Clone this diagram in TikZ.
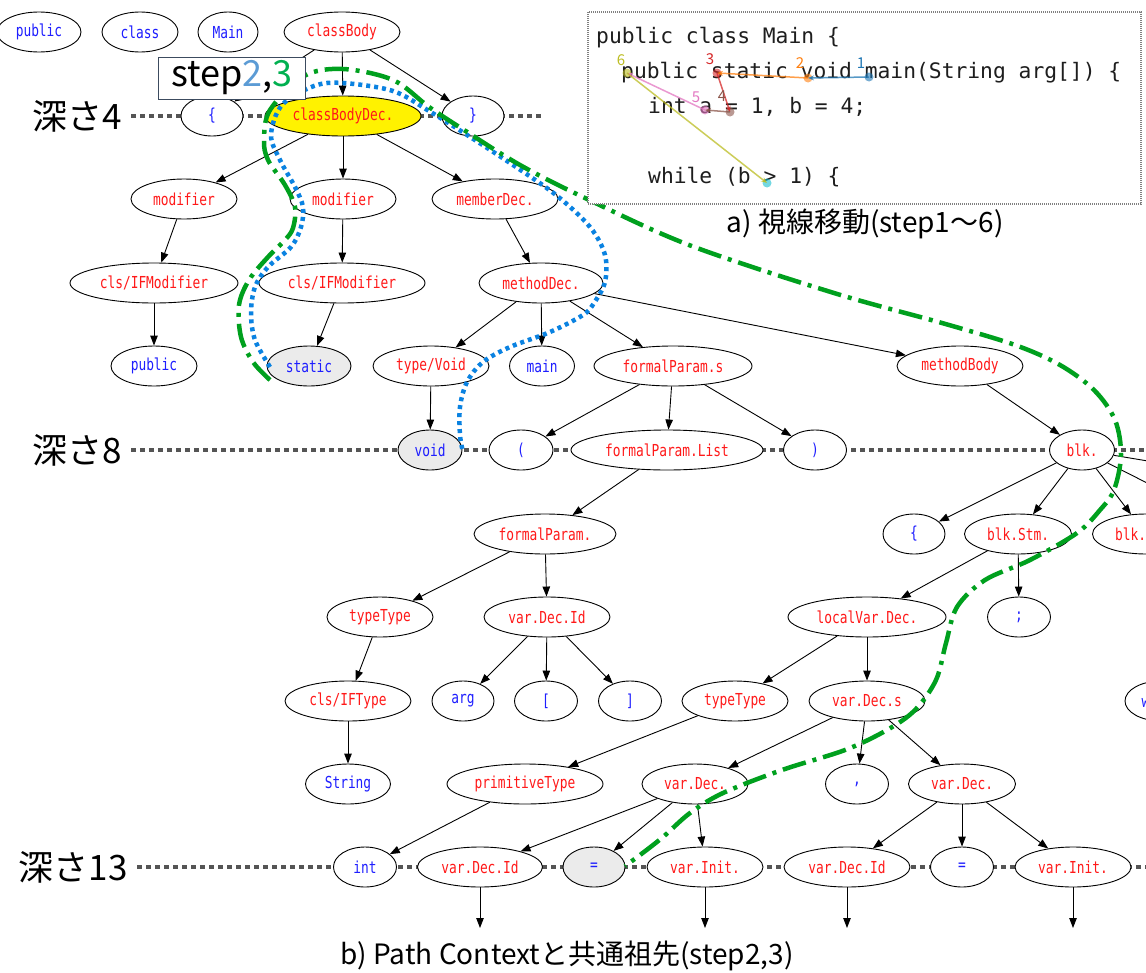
\documentclass[tikz,border=0pt]{standalone}
\usepackage{fontspec}
\usetikzlibrary{shapes.geometric,arrows.meta}
\newfontfamily\nf[FakeStretch=0.78]{DejaVu Sans Mono}
\newfontfamily\cf{DejaVu Sans Mono}
\newfontfamily\jp{Noto Sans CJK JP}
\definecolor{nred}{RGB}{255,25,25}
\definecolor{tblue}{RGB}{30,30,255}
\definecolor{dgray}{RGB}{85,85,85}
\definecolor{ggreen}{RGB}{0,160,30}
\definecolor{bblue}{RGB}{10,130,225}
\definecolor{lgray}{RGB}{235,235,235}
\definecolor{sblue}{RGB}{91,155,213}
\definecolor{sgreen}{RGB}{0,176,80}
\definecolor{boxc}{RGB}{60,75,95}
\definecolor{ca}{HTML}{1F77B4}
\definecolor{cb}{HTML}{FF7F0E}
\definecolor{cc}{HTML}{D62728}
\definecolor{cd}{HTML}{8C564B}
\definecolor{ce}{HTML}{E377C2}
\definecolor{cf}{HTML}{BCBD22}
\definecolor{cg}{HTML}{17BECF}
\newcommand\Nd[6]{\node[#1, minimum width=#5pt] (#2) at (#3,#4) {#6};}
\begin{document}
\begin{tikzpicture}[x=1pt,y=-1pt,
  nd/.style={ellipse, draw=black, line width=0.9pt, fill=white, minimum height=40pt, inner sep=0pt, font=\nf\fontsize{16.5pt}{16.5pt}\selectfont},
  nt/.style={nd, text=nred},
  tm/.style={nd, text=tblue},
  edge/.style={draw=black, line width=0.9pt, -{Triangle[length=10pt,width=7.5pt]}},
  depth/.style={draw=dgray, line width=4pt, dash pattern=on 5pt off 4pt},
  gline/.style={draw=ggreen, line width=4.5pt, dash pattern=on 24pt off 7pt on 4pt off 7pt},
  bline/.style={draw=bblue, line width=4.5pt, dash pattern=on 4pt off 4pt},
  deplabel/.style={anchor=east, inner sep=0pt, font=\jp\fontsize{35pt}{35pt}\selectfont},
  caption/.style={inner sep=0pt, font=\jp\fontsize{28pt}{28pt}\selectfont},
  code/.style={anchor=base west, inner sep=0pt, text={rgb,255:red,30;green,30;blue,30}, font=\cf\fontsize{21.3pt}{21.3pt}\selectfont},
  gz/.style={line width=1.5pt, opacity=0.75, -{Stealth[length=6pt,width=5pt]}},
  gdot/.style={circle, inner sep=0pt, minimum size=9pt, fill opacity=0.6},
  gnum/.style={inner sep=0pt, font=\jp\fontsize{15pt}{15pt}\selectfont}
]
\useasboundingbox (0,0) rectangle (1146,972);

% depth lines
\node[deplabel] (d4) at (122,116) {深さ4};
\node[deplabel] (d8) at (122,450) {深さ8};
\node[deplabel] (d13) at (128,867) {深さ13};
\coordinate (d4e) at (543,116);
\coordinate (d8e) at (1146,450);
\coordinate (d13e) at (1146,867);
\draw[depth] ([xshift=9pt]d4.east) -- (d4e);
\draw[depth] ([xshift=9pt]d8.east) -- (d8e);
\draw[depth] ([xshift=9pt]d13.east) -- (d13e);

% nodes
\Nd{tm}{pubA}{39}{32}{84}{public}
\Nd{tm}{classK}{140}{32}{76}{class}
\Nd{tm}{mainK}{228}{32}{60}{Main}
\Nd{nt}{classBody}{342}{32}{116}{classBody}
\Nd{tm}{lbA}{212}{116}{62}{\{}
\Nd{nt,fill=yellow}{cbd}{343}{116}{156}{classBodyDec.}
\Nd{tm}{rbA}{473}{116}{62}{\}}
\Nd{nt}{modA}{184}{199}{106}{modifier}
\Nd{nt}{modB}{343}{199}{106}{modifier}
\Nd{nt}{memberDec}{495}{199}{126}{memberDec.}
\Nd{nt}{clsA}{154}{283}{168}{cls/IFModifier}
\Nd{nt}{clsB}{342}{283}{166}{cls/IFModifier}
\Nd{nt}{methodDec}{541}{283}{124}{methodDec.}
\Nd{tm}{pubB}{154}{366}{86}{public}
\Nd{tm,fill=lgray}{static}{309}{366}{84}{static}
\Nd{nt}{typeVoid}{431}{366}{116}{type/Void}
\Nd{tm}{mainB}{542}{366}{65}{main}
\Nd{nt}{fps}{673}{366}{158}{formalParam.s}
\Nd{nt}{methodBody}{960}{366}{126}{methodBody}
\Nd{tm,fill=lgray}{void}{430}{450}{64}{void}
\Nd{tm}{lp}{521}{450}{64}{(}
\Nd{nt}{fpl}{667}{450}{192}{formalParam.List}
\Nd{tm}{rp}{815}{450}{63}{)}
\Nd{nt}{blk}{1082}{450}{65}{blk.}
\Nd{nt}{fp}{545}{534}{142}{formalParam.}
\Nd{tm}{lbB}{914}{534}{62}{\{}
\Nd{nt}{bsA}{1018}{534}{107}{blk.Stm.}
\Nd{nt}{bsB}{1146}{534}{107}{blk.Stm.}
\Nd{nt}{ttA}{380}{617}{106}{typeType}
\Nd{nt}{vdiP}{547}{617}{126}{var.Dec.Id}
\Nd{nt}{lvd}{867}{617}{158}{localVar.Dec.}
\Nd{tm}{semi}{1019}{617}{63}{;}
\Nd{nt}{clsT}{348}{701}{126}{cls/IFType}
\Nd{tm}{arg}{463}{701}{62}{arg}
\Nd{tm}{lbk}{546}{701}{63}{[}
\Nd{tm}{rbk}{630}{701}{63}{]}
\Nd{nt}{ttB}{735}{701}{106}{typeType}
\Nd{nt}{vds}{867}{701}{116}{var.Dec.s}
\Nd{tm}{whl}{1161}{701}{72}{while}
\Nd{tm}{str}{348}{784}{85}{String}
\Nd{nt}{prim}{525}{784}{156}{primitiveType}
\Nd{nt}{vdA}{695}{784}{106}{var.Dec.}
\Nd{tm}{comma}{857}{784}{63}{,}
\Nd{nt}{vdB}{962}{784}{107}{var.Dec.}
\Nd{tm}{int}{365}{867}{63}{int}
\Nd{nt}{vdiA}{480}{867}{125}{var.Dec.Id}
\Nd{tm,fill=lgray}{eqA}{594}{867}{62}{=}
\Nd{nt}{viA}{705}{867}{116}{var.Init.}
\Nd{nt}{vdiB}{847}{867}{126}{var.Dec.Id}
\Nd{tm}{eqB}{962}{867}{63}{=}
\Nd{nt}{viB}{1073}{867}{116}{var.Init.}

% free ends
\coordinate (off1) at (1250,478);
\coordinate (off2) at (1230,525);
\coordinate (dA) at (480,928);
\coordinate (dB) at (705,928);
\coordinate (dC) at (847,928);
\coordinate (dD) at (1073,928);

% edges
\draw[edge] (classBody) -- (lbA);
\draw[edge] (classBody) -- (cbd);
\draw[edge] (classBody) -- (rbA);
\draw[edge] (cbd) -- (modA);
\draw[edge] (cbd) -- (modB);
\draw[edge] (cbd) -- (memberDec);
\draw[edge] (modA) -- (clsA);
\draw[edge] (modB) -- (clsB);
\draw[edge] (memberDec) -- (methodDec);
\draw[edge] (clsA) -- (pubB);
\draw[edge] (clsB) -- (static);
\draw[edge] (methodDec) -- (typeVoid);
\draw[edge] (methodDec) -- (mainB);
\draw[edge] (methodDec) -- (fps);
\draw[edge] (methodDec) -- (methodBody);
\draw[edge] (typeVoid) -- (void);
\draw[edge] (fps) -- (lp);
\draw[edge] (fps) -- (fpl);
\draw[edge] (fps) -- (rp);
\draw[edge] (methodBody) -- (blk);
\draw[edge] (fpl) -- (fp);
\draw[edge] (blk) -- (lbB);
\draw[edge] (blk) -- (bsA);
\draw[edge] (blk) -- (bsB);
\draw[edge] (blk) -- (off1);
\draw[edge] (blk) -- (off2);
\draw[edge] (fp) -- (ttA);
\draw[edge] (fp) -- (vdiP);
\draw[edge] (bsA) -- (lvd);
\draw[edge] (bsA) -- (semi);
\draw[edge] (ttA) -- (clsT);
\draw[edge] (vdiP) -- (arg);
\draw[edge] (vdiP) -- (lbk);
\draw[edge] (vdiP) -- (rbk);
\draw[edge] (lvd) -- (ttB);
\draw[edge] (lvd) -- (vds);
\draw[edge] (clsT) -- (str);
\draw[edge] (ttB) -- (prim);
\draw[edge] (vds) -- (vdA);
\draw[edge] (vds) -- (comma);
\draw[edge] (vds) -- (vdB);
\draw[edge] (prim) -- (int);
\draw[edge] (vdA) -- (vdiA);
\draw[edge] (vdA) -- (eqA);
\draw[edge] (vdA) -- (viA);
\draw[edge] (vdB) -- (vdiB);
\draw[edge] (vdB) -- (eqB);
\draw[edge] (vdB) -- (viB);
\draw[edge] (vdiA) -- (dA);
\draw[edge] (viA) -- (dB);
\draw[edge] (vdiB) -- (dC);
\draw[edge] (viB) -- (dD);

% path curves
\draw[bline] plot[smooth, tension=0.55] coordinates {(270,367) (255,340) (251,313) (255,287) (268,267) (291,247) (301,227) (303,207) (295,187) (280,160) (271,135) (282,105) (314,86) (343,83) (393,91) (429,111) (464,133) (510,163) (556,195) (590,227) (605,255) (605,282) (594,303) (583,315) (550,332) (510,347) (483,362) (467,382) (460,407) (460,435) (463,452)};
\draw[gline] plot[smooth, tension=0.55] coordinates {(270,380) (253,362) (241,337) (239,305) (249,280) (268,257) (285,240) (293,228) (295,207) (285,185) (268,160) (264,140) (270,110) (304,76) (343,69) (393,80) (429,107) (464,130) (520,165) (585,198) (689,245) (834,293) (942,323) (1015,345) (1060,365) (1094,390) (1115,420) (1121,455) (1114,490) (1100,510) (1077,533) (1030,560) (985,580) (957,607) (946,643) (936,680) (915,710) (887,730) (845,750) (782,770) (723,793) (690,813) (663,837) (640,855) (625,866)};

% step box
\node[draw=boxc, line width=1pt, fill=white, minimum width=147pt, minimum height=42pt, inner sep=0pt, font=\jp\fontsize{36pt}{36pt}\selectfont] (stepbox) at (232,78) {step\textcolor{sblue}{2},\textcolor{sgreen}{3}};

% code box
\node[draw=gray, line width=1.5pt, dash pattern=on 1pt off 1pt, fill=white, minimum width=553pt, minimum height=192pt, inner sep=0pt] (codebox) at (864.5,108) {};
\node[code] (c1) at (596,43) {public class Main \{};
\node[code] (c2) at (621,78) {public static void main(String arg[]) \{};
\node[code] (c3) at (648,113) {int a = 1, b = 4;};
\node[code] (c4) at (648,183) {while (b > 1) \{};

% gaze
\node[gdot, fill=ca] (g1) at (869,77) {};
\node[gdot, fill=cb] (g2) at (808,78) {};
\node[gdot, fill=cc] (g3) at (717,73) {};
\node[gdot, fill=cd] (g4) at (730,112) {};
\node[gdot, fill=ce] (g5) at (705,110) {};
\node[gdot, fill=cf] (g6) at (627,73) {};
\node[gdot, fill=cg] (g7) at (767,183) {};
\draw[gz, draw=ca] (g1.center) -- (g2.center);
\draw[gz, draw=cb] (g2.center) -- (g3.center);
\draw[gz, draw=cc] (g3.center) -- (g4.center);
\draw[gz, draw=cd] (g4.center) -- (g5.center);
\draw[gz, draw=ce] (g5.center) -- (g6.center);
\draw[gz, draw=cf] (g6.center) -- (g7.center);
\node[gnum, text=ca] (n1) at (861,63) {1};
\node[gnum, text=cb] (n2) at (800,63) {2};
\node[gnum, text=cc] (n3) at (710,59) {3};
\node[gnum, text=cd] (n4) at (722,96) {4};
\node[gnum, text=ce] (n5) at (696,97) {5};
\node[gnum, text=cf] (n6) at (621,60) {6};

% captions
\node[caption] (capA) at (865,224) {a) 視線移動(step1〜6)};
\node[caption] (capB) at (567,956) {b) Path Contextと共通祖先(step2,3)};
\end{tikzpicture}
\end{document}
